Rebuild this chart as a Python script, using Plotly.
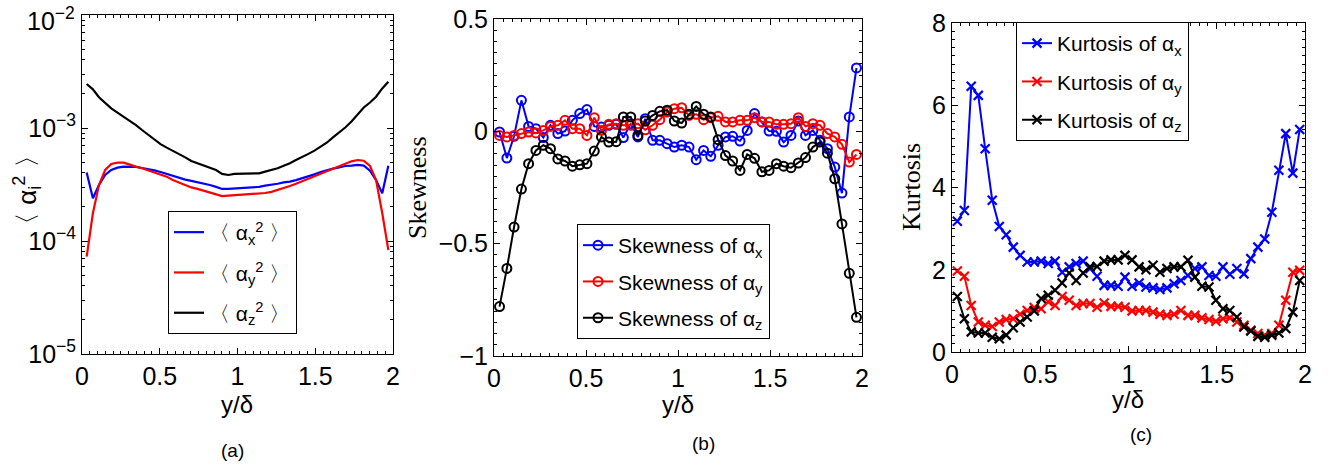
import plotly.graph_objects as go

# Wall-normal position y/delta (shared by all profiles)
y_delta = [0.030, 0.070, 0.109, 0.149, 0.188, 0.228, 0.268, 0.307, 0.347, 0.386,
           0.426, 0.466, 0.505, 0.545, 0.584, 0.624, 0.664, 0.703, 0.743, 0.782,
           0.822, 0.862, 0.901, 0.941, 0.980, 1.020, 1.060, 1.099, 1.139, 1.178,
           1.218, 1.258, 1.297, 1.337, 1.376, 1.416, 1.456, 1.495, 1.535, 1.574,
           1.614, 1.654, 1.693, 1.733, 1.772, 1.812, 1.852, 1.891, 1.931, 1.970]

# (a) mean square of alpha components
msq_x = [4.03e-4, 2.39e-4, 3.13e-4, 3.84e-4, 4.25e-4, 4.46e-4, 4.55e-4, 4.55e-4, 4.52e-4, 4.43e-4,
         4.34e-4, 4.22e-4, 4.08e-4, 3.92e-4, 3.76e-4, 3.61e-4, 3.49e-4, 3.40e-4, 3.31e-4, 3.24e-4,
         3.13e-4, 3.01e-4, 2.89e-4, 2.89e-4, 2.91e-4, 2.92e-4, 2.94e-4, 2.98e-4, 3.01e-4, 3.09e-4,
         3.13e-4, 3.21e-4, 3.30e-4, 3.35e-4, 3.46e-4, 3.59e-4, 3.74e-4, 3.89e-4, 4.08e-4, 4.25e-4,
         4.37e-4, 4.49e-4, 4.61e-4, 4.64e-4, 4.71e-4, 4.64e-4, 4.19e-4, 3.46e-4, 2.64e-4, 4.64e-4]
msq_y = [7.26e-5, 1.76e-4, 3.13e-4, 4.25e-4, 4.80e-4, 4.93e-4, 4.93e-4, 4.71e-4, 4.55e-4, 4.40e-4,
         4.22e-4, 4.08e-4, 3.92e-4, 3.71e-4, 3.46e-4, 3.28e-4, 3.11e-4, 2.98e-4, 2.89e-4, 2.79e-4,
         2.70e-4, 2.59e-4, 2.50e-4, 2.52e-4, 2.54e-4, 2.55e-4, 2.57e-4, 2.59e-4, 2.61e-4, 2.66e-4,
         2.72e-4, 2.82e-4, 2.94e-4, 3.07e-4, 3.21e-4, 3.38e-4, 3.56e-4, 3.76e-4, 3.97e-4, 4.19e-4,
         4.40e-4, 4.64e-4, 4.87e-4, 5.07e-4, 5.21e-4, 5.13e-4, 4.61e-4, 3.46e-4, 1.76e-4, 8.32e-5]
msq_z = [2.45e-3, 2.20e-3, 1.87e-3, 1.65e-3, 1.49e-3, 1.37e-3, 1.26e-3, 1.16e-3, 1.06e-3, 9.60e-4,
         8.70e-4, 7.80e-4, 7.20e-4, 6.70e-4, 6.30e-4, 5.90e-4, 5.50e-4, 5.10e-4, 4.87e-4, 4.64e-4,
         4.40e-4, 4.25e-4, 3.92e-4, 3.84e-4, 3.92e-4, 3.92e-4, 3.94e-4, 3.92e-4, 3.97e-4, 4.11e-4,
         4.25e-4, 4.40e-4, 4.64e-4, 4.87e-4, 5.21e-4, 5.50e-4, 5.90e-4, 6.30e-4, 6.84e-4, 7.41e-4,
         8.27e-4, 9.09e-4, 1.01e-3, 1.14e-3, 1.30e-3, 1.52e-3, 1.68e-3, 1.89e-3, 2.24e-3, 2.57e-3]

# (b) skewness
skew_x = [-0.003, -0.119, -0.022, 0.138, 0.022, 0.012, -0.028, 0.027, -0.010, 0.001,
          0.049, 0.079, 0.097, 0.022, 0.019, 0.027, 0.031, -0.028, 0.034, -0.025,
          0.056, -0.040, -0.040, -0.055, -0.070, -0.062, -0.070, -0.126, -0.085, -0.111,
          -0.062, -0.025, -0.022, -0.043, 0.004, 0.079, 0.042, 0.001, 0.000, -0.048,
          -0.018, 0.046, -0.018, 0.004, -0.040, -0.077, -0.159, -0.275, 0.064, 0.282]
skew_y = [-0.018, -0.025, -0.018, -0.010, -0.003, -0.007, 0.004, 0.022, 0.027, 0.049,
          0.012, 0.012, -0.018, 0.061, 0.004, 0.031, 0.034, 0.027, 0.027, 0.034,
          0.007, 0.027, 0.052, 0.086, 0.101, 0.105, 0.071, 0.076, 0.052, 0.061,
          0.067, 0.042, 0.042, 0.049, 0.049, 0.061, 0.042, 0.042, 0.031, 0.031,
          0.034, 0.061, 0.022, 0.034, 0.027, -0.010, -0.025, -0.058, -0.137, -0.103]
skew_z = [-0.780, -0.610, -0.426, -0.257, -0.144, -0.085, -0.062, -0.077, -0.123, -0.132,
          -0.155, -0.149, -0.144, -0.088, -0.025, -0.048, -0.046, 0.064, 0.064, -0.018,
          0.046, 0.071, 0.089, 0.094, 0.046, 0.037, 0.076, 0.111, 0.076, 0.064,
          -0.037, -0.108, -0.132, -0.174, -0.103, -0.120, -0.180, -0.174, -0.144, -0.155,
          -0.162, -0.141, -0.117, -0.070, -0.048, -0.097, -0.211, -0.412, -0.632, -0.828]

# (c) kurtosis
kurt_x = [3.18, 3.44, 6.46, 6.24, 4.94, 3.69, 3.05, 2.85, 2.55, 2.35,
          2.19, 2.19, 2.21, 2.15, 2.21, 1.94, 2.07, 2.15, 2.21, 2.03,
          1.84, 1.62, 1.62, 1.60, 1.82, 1.60, 1.68, 1.58, 1.56, 1.52,
          1.56, 1.66, 1.74, 1.86, 2.03, 2.07, 1.86, 1.84, 2.07, 1.89,
          2.03, 1.90, 2.27, 2.55, 2.75, 3.40, 4.42, 5.31, 4.35, 5.41]
kurt_y = [1.97, 1.84, 1.13, 0.73, 0.65, 0.62, 0.73, 0.79, 0.81, 0.92,
          1.01, 1.08, 1.05, 1.22, 1.13, 1.35, 1.26, 1.13, 1.18, 1.18,
          1.09, 1.19, 1.11, 1.11, 1.09, 1.00, 1.01, 1.01, 0.97, 0.92,
          0.89, 0.92, 1.01, 0.89, 0.89, 0.83, 0.79, 0.75, 0.81, 0.83,
          0.73, 0.65, 0.53, 0.45, 0.41, 0.45, 0.65, 1.26, 1.94, 1.99]
kurt_z = [1.35, 0.81, 0.49, 0.46, 0.46, 0.36, 0.32, 0.41, 0.59, 0.73,
          0.85, 1.00, 1.30, 1.38, 1.50, 1.68, 1.92, 1.74, 1.92, 2.07,
          2.08, 2.21, 2.24, 2.24, 2.35, 2.24, 2.07, 2.00, 2.11, 1.94,
          2.03, 2.07, 2.07, 2.23, 1.82, 1.60, 1.58, 1.26, 1.05, 1.01,
          0.85, 0.61, 0.51, 0.38, 0.36, 0.41, 0.46, 0.57, 0.97, 1.74]

BLUE, RED, BLACK = "#0000ff", "#ff0000", "#000000"
SANS = "Liberation Sans, Arial, Helvetica, sans-serif"
SERIF = "Liberation Serif, Times New Roman, serif"

fig = go.Figure()

# (a) mean-square profiles
for vals, col, sub in [(msq_x, BLUE, "x"), (msq_y, RED, "y"), (msq_z, BLACK, "z")]:
    fig.add_trace(go.Scatter(
        x=y_delta, y=vals, mode="lines", line=dict(color=col, width=2.2),
        name=f"〈 α<sub>{sub}</sub><sup>2</sup> 〉", xaxis="x", yaxis="y",
        legend="legend", legendgroup="a" + sub))

# (b) skewness profiles
for vals, col, sub in [(skew_x, BLUE, "x"), (skew_y, RED, "y"), (skew_z, BLACK, "z")]:
    fig.add_trace(go.Scatter(
        x=y_delta, y=vals, mode="lines+markers", line=dict(color=col, width=2),
        marker=dict(symbol="circle-open", size=9, color=col, line=dict(width=2, color=col)),
        name=f"Skewness of α<sub>{sub}</sub>", xaxis="x2", yaxis="y2",
        legend="legend2", legendgroup="b" + sub))

# (c) kurtosis profiles
for vals, col, sub in [(kurt_x, BLUE, "x"), (kurt_y, RED, "y"), (kurt_z, BLACK, "z")]:
    fig.add_trace(go.Scatter(
        x=y_delta, y=vals, mode="lines+markers", line=dict(color=col, width=2),
        marker=dict(symbol="x-thin-open", size=9, color=col, line=dict(width=2.2, color=col)),
        name=f"Kurtosis of α<sub>{sub}</sub>", xaxis="x3", yaxis="y3",
        legend="legend3", legendgroup="c" + sub))


def axis_style(**kw):
    base = dict(showline=True, linecolor="black", linewidth=1, mirror="ticks",
                ticks="inside", ticklen=6, tickwidth=1, tickcolor="black",
                showgrid=False, zeroline=False, automargin=False, ticklabeloverflow="allow",
                tickfont=dict(family=SANS, size=25, color="black"))
    base.update(kw)
    return base


def xminor():
    return dict(ticks="inside", ticklen=3, tickcolor="black", dtick=0.05, showgrid=False)


W, H = 1338, 469


def xd(a, b):
    return [a / W, b / W]


def yd(top, bottom):
    return [1 - bottom / H, 1 - top / H]


log_minor = [k * 10.0 ** e for e in (-5, -4, -3) for k in range(2, 10)]
x_ticks = dict(tickvals=[0, 0.5, 1, 1.5, 2], ticktext=["0", "0.5", "1", "1.5", "2"])

fig.update_layout(
    width=W, height=H, margin=dict(l=0, r=0, t=0, b=0, autoexpand=False),
    paper_bgcolor="white", plot_bgcolor="white", showlegend=True,
    xaxis=axis_style(domain=xd(82, 393), range=[0, 2], minor=xminor(), anchor="y", **x_ticks),
    # the top decade label is placed separately so its exponent stays inside the page
    yaxis=axis_style(domain=yd(15, 354), type="log", range=[-5, -2],
                     tickvals=[1e-5, 1e-4, 1e-3, 1e-2],
                     ticktext=["10<sup>−5</sup>", "10<sup>−4</sup>", "10<sup>−3</sup>", ""],
                     minor=dict(ticks="inside", ticklen=3, tickcolor="black", tickvals=log_minor,
                                showgrid=False), anchor="x"),
    xaxis2=axis_style(domain=xd(494, 862), range=[0, 2], minor=xminor(), anchor="y2", **x_ticks),
    yaxis2=axis_style(domain=yd(19, 356), range=[-1, 0.5], tickvals=[-1, -0.5, 0, 0.5],
                      ticktext=["−1", "−0.5", "0", "0.5"],
                      minor=dict(ticks="inside", ticklen=3, tickcolor="black", dtick=0.05,
                                 showgrid=False), anchor="x2"),
    xaxis3=axis_style(domain=xd(952, 1305), range=[0, 2], minor=xminor(), anchor="y3", **x_ticks),
    yaxis3=axis_style(domain=yd(23, 352), range=[0, 8], tickvals=[0, 2, 4, 6, 8],
                      minor=dict(ticks="inside", ticklen=3, tickcolor="black", dtick=0.2,
                                 showgrid=False), anchor="x3"),
    legend=dict(x=168 / W, y=1 - 211 / H, xanchor="left", yanchor="top",
                bordercolor="black", borderwidth=1, bgcolor="white",
                font=dict(family=SANS, size=21, color="black"), tracegroupgap=10),
    legend2=dict(x=577 / W, y=1 - 224 / H, xanchor="left", yanchor="top",
                 bordercolor="black", borderwidth=1, bgcolor="white",
                 font=dict(family=SANS, size=21, color="black"), tracegroupgap=6),
    legend3=dict(x=1016 / W, y=1 - 22 / H, xanchor="left", yanchor="top",
                 bordercolor="black", borderwidth=1, bgcolor="white",
                 font=dict(family=SANS, size=21, color="black"), tracegroupgap=8),
)

annots = [
    # top decade label of the log axis
    dict(x=77 / W, y=1 - 19 / H, text="10<sup>−2</sup>", xanchor="right",
         font=dict(family=SANS, size=25)),
    # y-axis titles
    dict(x=27 / W, y=1 - 190 / H, text="〈 α<sub>i</sub><sup>2</sup> 〉", textangle=-90,
         font=dict(family=SANS, size=26)),
    dict(x=417 / W, y=1 - 188 / H, text="Skewness", textangle=-90,
         font=dict(family=SERIF, size=26)),
    dict(x=912 / W, y=1 - 187 / H, text="Kurtosis", textangle=-90,
         font=dict(family=SERIF, size=26)),
    # x-axis titles
    dict(x=237 / W, y=1 - 404 / H, text="y/δ", font=dict(family=SANS, size=24)),
    dict(x=678 / W, y=1 - 404 / H, text="y/δ", font=dict(family=SANS, size=24)),
    dict(x=1128 / W, y=1 - 399 / H, text="y/δ", font=dict(family=SANS, size=24)),
    # panel labels
    dict(x=232 / W, y=1 - 450 / H, text="(a)", font=dict(family=SANS, size=19)),
    dict(x=703 / W, y=1 - 443 / H, text="(b)", font=dict(family=SANS, size=19)),
    dict(x=1141 / W, y=1 - 434 / H, text="(c)", font=dict(family=SANS, size=19)),
]
for a in annots:
    a.setdefault("xanchor", "center")
    a.update(xref="paper", yref="paper", showarrow=False, yanchor="middle")
    a["font"]["color"] = "black"
fig.update_layout(annotations=annots)

fig.write_html("out.html")
